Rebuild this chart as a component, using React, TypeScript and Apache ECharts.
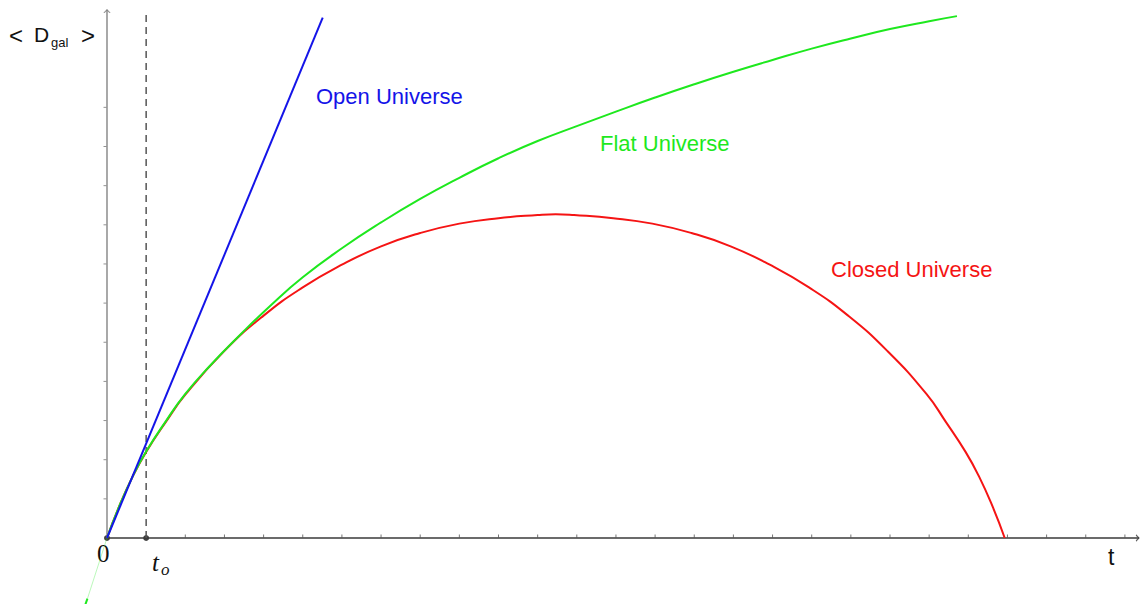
import React, { useEffect, useRef } from "react";
import * as echarts from "echarts";

// Curves (x = time in tick units, y = <D_gal> in tick units)
const openUniverse: number[][] = [[0, 0], [5.51, 13.29]];
const flatUniverse: number[][] = [
  [0, 0], [0.3, 0.78], [0.66, 1.58], [1, 2.21], [1.5, 2.98], [2, 3.68], [2.63, 4.4],
  [3.39, 5.18], [4.2, 5.96], [5, 6.66], [6, 7.4], [7, 8.06], [8, 8.66], [9, 9.2],
  [10, 9.7], [11, 10.14], [12, 10.52], [13, 10.89], [14, 11.25], [15, 11.59],
  [16, 11.91], [17, 12.21], [18, 12.5], [19, 12.76], [20, 13.0], [21, 13.2], [21.71, 13.33],
];
const flatBelowAxis: number[][] = [[0, 0], [-0.5, -1.55]];
const flatBelowEdge: number[][] = [[-0.5, -1.55], [-0.56, -1.72]];
const closedUniverse: number[][] = [
  [0, 0], [0.3, 0.78], [0.66, 1.58], [1, 2.2], [1.5, 2.96], [2, 3.66], [3, 4.78],
  [4, 5.68], [5, 6.4], [6, 6.98], [7, 7.45], [8, 7.79], [9, 8.03], [10, 8.17],
  [11, 8.25], [11.46, 8.27], [11.93, 8.25], [12.93, 8.17], [13.93, 8.03], [14.93, 7.79],
  [15.93, 7.45], [16.93, 6.98], [17.93, 6.4], [18.93, 5.68], [19.93, 4.78], [20.93, 3.68],
  [21.43, 2.96], [21.93, 2.2], [22.27, 1.58], [22.63, 0.78], [22.93, 0],
];
const tObserved = 1;
const dashedTop = 13.45;
const xAxisEnd = 26.36;
const yAxisEnd = 13.49;
const xTicks: number[] = [2, 3, 4, 5, 6, 7, 8, 9, 10, 11, 12, 13, 14, 15, 16, 17, 18, 19, 20, 21, 22, 23, 24, 25, 26];
const yTicks: number[] = [1, 2, 3, 4, 5, 6, 7, 8, 9, 10, 11];
const markedPoints: number[][] = [[0, 0], [tObserved, 0]];

const UNIT = 39.15;
const ORIGIN_X = 107;
const ORIGIN_Y = 538;
const W = 1142;
const H = 604;

const BLUE = "#1414e8";
const GREEN = "#1ee81e";
const RED = "#f51414";

export default function App() {
  const ref = useRef<HTMLDivElement>(null);
  useEffect(() => {
    if (!ref.current) return;
    const chart = echarts.init(ref.current, undefined, { renderer: "svg" });
    const sans = "'Liberation Sans', Arial, sans-serif";
    const serif = "'Liberation Serif', 'Times New Roman', serif";
    chart.setOption({
      animation: false,
      backgroundColor: "#ffffff",
      grid: { left: 0, right: 0, top: 0, bottom: 0, containLabel: false },
      xAxis: {
        type: "value",
        min: -ORIGIN_X / UNIT,
        max: (W - ORIGIN_X) / UNIT,
        show: false,
        splitLine: { show: false },
      },
      yAxis: {
        type: "value",
        min: -(H - ORIGIN_Y) / UNIT,
        max: ORIGIN_Y / UNIT,
        show: false,
        splitLine: { show: false },
      },
      series: [
        // axes
        {
          type: "line",
          data: [[0, 0], [xAxisEnd, 0]],
          symbol: "none",
          lineStyle: { color: "#3a3a3a", width: 1.3 },
          silent: true,
        },
        {
          type: "line",
          data: [[0, 0], [0, yAxisEnd]],
          symbol: "none",
          lineStyle: { color: "#7a7a7a", width: 1.3 },
          silent: true,
        },
        {
          type: "scatter",
          data: [[xAxisEnd, 0]],
          symbol: "path://M0 0 L10 10 L0 20",
          symbolSize: [3, 6],
          symbolOffset: [-1.5, 0],
          itemStyle: { color: "rgba(0,0,0,0)", borderColor: "#3a3a3a", borderWidth: 1 },
          silent: true,
        },
        {
          type: "scatter",
          data: [[0, yAxisEnd]],
          symbol: "path://M0 10 L10 0 L20 10",
          symbolSize: [6, 3],
          symbolOffset: [0, 1.5],
          itemStyle: { color: "rgba(0,0,0,0)", borderColor: "#7a7a7a", borderWidth: 1 },
          silent: true,
        },
        // ticks
        {
          type: "scatter",
          data: xTicks.map((v) => [v, 0]),
          symbol: "rect",
          symbolSize: [1, 3],
          symbolOffset: [0, -2],
          itemStyle: { color: "#555555" },
          silent: true,
        },
        {
          type: "scatter",
          data: yTicks.map((v) => [0, v]),
          symbol: "rect",
          symbolSize: [3, 1],
          symbolOffset: [-2, 0],
          itemStyle: { color: "#777777" },
          silent: true,
        },
        // dashed t_o line
        {
          type: "line",
          data: [[tObserved, 0], [tObserved, dashedTop]],
          symbol: "none",
          lineStyle: { color: "#555555", width: 1.5, type: [7, 5] },
          silent: true,
        },
        // curves
        {
          name: "Closed Universe",
          type: "line",
          data: closedUniverse,
          symbol: "none",
          smooth: 0.5,
          lineStyle: { color: RED, width: 2 },
          silent: true,
        },
        {
          name: "Flat Universe",
          type: "line",
          data: flatUniverse,
          symbol: "none",
          smooth: 0.5,
          lineStyle: { color: GREEN, width: 2 },
          silent: true,
        },
        {
          type: "line",
          data: flatBelowAxis,
          symbol: "none",
          lineStyle: { color: GREEN, width: 1, opacity: 0.3 },
          silent: true,
        },
        {
          type: "line",
          data: flatBelowEdge,
          symbol: "none",
          lineStyle: { color: GREEN, width: 2 },
          silent: true,
        },
        {
          name: "Open Universe",
          type: "line",
          data: openUniverse,
          symbol: "none",
          lineStyle: { color: BLUE, width: 2 },
          silent: true,
        },
        // points
        {
          type: "scatter",
          data: markedPoints,
          symbol: "circle",
          symbolSize: 6,
          itemStyle: { color: "#111111" },
          silent: true,
        },
      ],
      graphic: [
        { type: "text", left: 316, top: 85, style: { text: "Open Universe", fill: BLUE, font: `22px ${sans}` } },
        { type: "text", left: 600, top: 132, style: { text: "Flat Universe", fill: GREEN, font: `22px ${sans}` } },
        { type: "text", left: 831, top: 258, style: { text: "Closed Universe", fill: RED, font: `22px ${sans}` } },
        { type: "text", left: 1108, top: 545, style: { text: "t", fill: "#111111", font: `23px ${sans}` } },
        { type: "text", left: 97, top: 541, style: { text: "0", fill: "#111111", font: `25px ${serif}` } },
        { type: "text", left: 152, top: 550, style: { text: "t", fill: "#111111", font: `italic 25px ${serif}` } },
        { type: "text", left: 161, top: 561, style: { text: "o", fill: "#111111", font: `italic 17px ${serif}` } },
        { type: "text", left: 9, top: 23, style: { text: "<", fill: "#111111", font: `24px ${sans}` } },
        { type: "text", left: 34, top: 24, style: { text: "D", fill: "#111111", font: `21px ${sans}` } },
        { type: "text", left: 51, top: 36, style: { text: "gal", fill: "#111111", font: `13px ${sans}` } },
        { type: "text", left: 81, top: 23, style: { text: ">", fill: "#111111", font: `24px ${sans}` } },
      ],
    });
    return () => chart.dispose();
  }, []);
  return (
    <div
      ref={ref}
      style={{ position: "fixed", left: 0, top: 0, width: W, height: H, background: "#fff" }}
    />
  );
}
